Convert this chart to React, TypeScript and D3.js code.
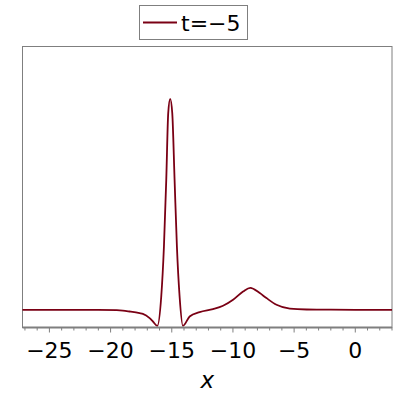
import React from 'react';
import * as d3 from 'd3';

// values (t = -5)
const xValues = [-27.2, -24, -21, -19.5, -19.0, -18.45, -17.63, -17.36, -16.81, -16.54, -16.18, -15.86, -15.64, -15.45, -15.29, -15.13, -14.96, -14.77, -14.58, -14.36, -14.09, -13.54, -12.72, -11.63, -10.81, -9.99, -9.17, -8.58, -7.81, -7.26, -6.44, -5.35, -3.98, -2, 0, 3.0];
const yValues = [0, 0, -0.001, -0.004, -0.008, -0.017, -0.033, -0.04, -0.083, -0.117, -0.16, 0.133, 0.633, 1.3, 1.967, 2.11, 1.967, 1.3, 0.633, 0.133, -0.16, -0.067, -0.023, 0.007, 0.04, 0.1, 0.183, 0.22, 0.167, 0.117, 0.05, 0.012, 0.003, 0.001, 0, 0];
const majorTicks = [-25, -20, -15, -10, -5, 0];
const minorTicks = d3.range(-27, 4, 1);
const legendLabel = 't=\u22125';
const axisLabel = 'x';

const W = 400;
const H = 400;
const margin = { top: 46.5, right: 8, bottom: 72.5, left: 22.5 };
const lineColor = '#7a0014';
const frameColor = '#7f7f7f';
const font = '"DejaVu Sans", sans-serif';

const App = () => {
  const x = d3.scaleLinear().domain([-27.2, 3.0]).range([margin.left, W - margin.right]);
  const y = d3.scaleLinear().domain([-0.177, 2.633]).range([H - margin.bottom, margin.top]);

  const pts: [number, number][] = xValues.map((v, i) => [v, yValues[i]]);
  const line = d3.line<[number, number]>()
    .x(d => x(d[0]))
    .y(d => y(d[1]))
    .curve(d3.curveMonotoneX);

  const x0 = margin.left;
  const x1 = W - margin.right;
  const y0 = margin.top;
  const y1 = H - margin.bottom;

  return (
    <svg width={W} height={H} style={{ position: 'absolute', left: 0, top: 0, background: '#fff' }}>
      <rect x={x0} y={y0} width={x1 - x0} height={y1 - y0} fill="none" stroke={frameColor} strokeWidth={1} />
      <path d={line(pts) ?? ''} fill="none" stroke={lineColor} strokeWidth={1.8} />
      <line x1={x0} x2={x1} y1={y1} y2={y1} stroke={frameColor} strokeWidth={2} />
      {minorTicks.filter(t => x(t) >= x0 && x(t) <= x1).map(t => (
        <line key={'m' + t} x1={x(t)} x2={x(t)} y1={y1} y2={y1 + (t % 5 === 0 ? 5 : 3)} stroke={frameColor} strokeWidth={1} />
      ))}
      {majorTicks.map(t => (
        <text key={'l' + t} x={x(t)} y={358} textAnchor="middle" fontFamily={font} fontSize={22} fill="#000">
          {t < 0 ? '\u2212' + Math.abs(t) : String(t)}
        </text>
      ))}
      <text x={(x0 + x1) / 2} y={388} textAnchor="middle" fontFamily={font} fontSize={23} fontStyle="italic" fill="#000">
        {axisLabel}
      </text>
      <g>
        <rect x={139.5} y={5.5} width={108} height={34} fill="#fff" stroke={frameColor} strokeWidth={1} />
        <line x1={143} x2={177} y1={22.5} y2={22.5} stroke={lineColor} strokeWidth={1.8} />
        <text x={181} y={30.5} fontFamily={font} fontSize={22} fill="#000">{legendLabel}</text>
      </g>
    </svg>
  );
};

export default App;
